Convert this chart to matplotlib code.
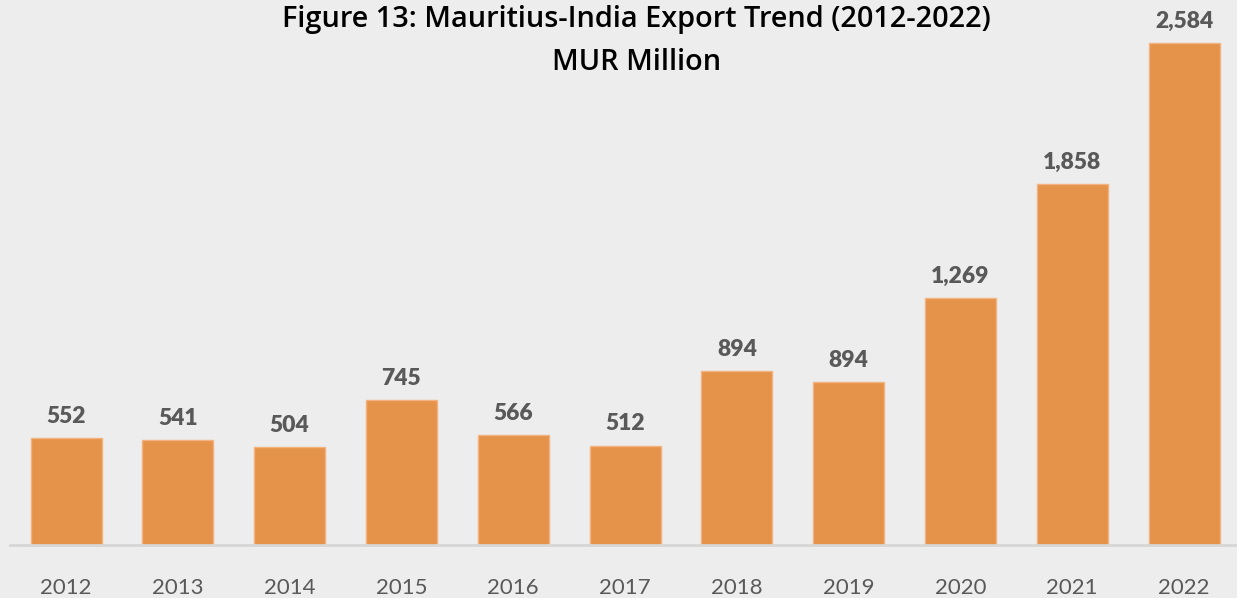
import matplotlib.pyplot as plt

# =========================
# DATA
# =========================
years = ["2012", "2013", "2014", "2015", "2016", "2017",
         "2018", "2019", "2020", "2021", "2022"]

# bar heights (2019 bar is drawn lower than its label)
exports = [552, 541, 504, 745, 566, 512, 894, 840, 1269, 1858, 2584]

value_labels = ["552", "541", "504", "745", "566", "512",
                "894", "894", "1,269", "1,858", "2,584"]

title_text = "Figure 13: Mauritius-India Export Trend (2012-2022)"
subtitle_text = "MUR Million"

bg_color = "#EDEDED"
bar_color = "#E5924B"
text_gray = "#595959"

plt.rcParams["font.family"] = ["Lato", "DejaVu Sans"]

fig = plt.figure(figsize=(12.37, 5.98), dpi=100)
fig.patch.set_facecolor(bg_color)

ax = fig.add_axes([0.0081, 0.0886, 0.9919, 0.9114])
ax.set_facecolor(bg_color)

x = list(range(len(years)))

ax.bar(
    x,
    exports,
    width=0.635,
    color=bar_color,
    edgecolor="#F2B37E",
    linewidth=1.0,
    zorder=2
)

for xi, val, lab in zip(x, exports, value_labels):
    ax.annotate(
        lab,
        (xi, val),
        xytext=(0, 8),
        textcoords="offset points",
        ha="center",
        va="bottom",
        fontsize=16.5,
        fontweight="heavy",
        color=text_gray
    )

ax.set_xlim(-0.501, 10.474)
ax.set_ylim(0, 2805)

ax.set_xticks(x)
ax.set_xticklabels(years, fontsize=16, color=text_gray)
ax.tick_params(axis="x", length=0, pad=24)
ax.set_yticks([])

for side in ["top", "right", "left"]:
    ax.spines[side].set_visible(False)
ax.spines["bottom"].set_color("#D6D6D6")
ax.spines["bottom"].set_linewidth(2)

fig.text(
    0.5146, 0.9666,
    title_text,
    ha="center",
    va="center",
    fontsize=20.8,
    fontweight="semibold",
    family=["Open Sans", "DejaVu Sans"],
    color="black"
)

fig.text(
    0.5146, 0.896,
    subtitle_text,
    ha="center",
    va="center",
    fontsize=20.8,
    fontweight="semibold",
    family=["Open Sans", "DejaVu Sans"],
    color="black"
)

plt.savefig("out.png", dpi=100, facecolor=bg_color)

plt.close()
